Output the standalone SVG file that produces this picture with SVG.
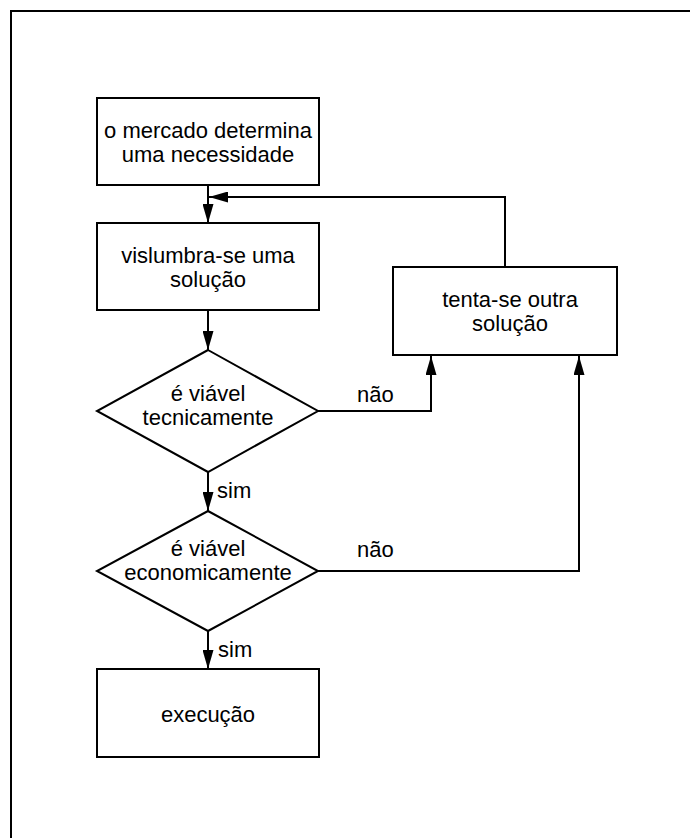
<svg xmlns="http://www.w3.org/2000/svg" width="690" height="838" viewBox="0 0 690 838">
  <style>
    .box { fill: #ffffff; stroke: #000000; stroke-width: 2; }
    .conn { fill: none; stroke: #000000; stroke-width: 2; }
    .lbl { font-family: "Liberation Sans", Arial, sans-serif; font-size: 22px; fill: #000000; }
    .mid { text-anchor: middle; }
  </style>
  <defs>
    <marker id="arrow" markerUnits="userSpaceOnUse" markerWidth="19" markerHeight="11" refX="19" refY="5.5" orient="auto">
      <path d="M0,0 L19,5.5 L0,11 Z" fill="#000000"/>
    </marker>
  </defs>

  <rect width="690" height="838" fill="#ffffff"/>
  <!-- page frame -->
  <path d="M11,838 V11 H690" fill="none" stroke="#000000" stroke-width="2"/>

  <g id="connectors">
    <path class="conn" d="M208,185 V223" marker-end="url(#arrow)"/>
    <path class="conn" d="M505,267 V197 H209" marker-end="url(#arrow)"/>
    <path class="conn" d="M208,310 V350" marker-end="url(#arrow)"/>
    <path class="conn" d="M318,411 H431 V356" marker-end="url(#arrow)"/>
    <path class="conn" d="M208,472 V511" marker-end="url(#arrow)"/>
    <path class="conn" d="M318,571 H579 V356" marker-end="url(#arrow)"/>
    <path class="conn" d="M208,631 V669" marker-end="url(#arrow)"/>
    <text class="lbl" x="357" y="402">não</text>
    <text class="lbl" x="357" y="557">não</text>
    <text class="lbl" x="217" y="498">sim</text>
    <text class="lbl" x="218" y="657">sim</text>
  </g>

  <g id="mercado">
    <rect class="box" x="97" y="98" width="222" height="87"/>
    <text class="lbl mid" x="208" y="138">o mercado determina</text>
    <text class="lbl mid" x="208" y="162">uma necessidade</text>
  </g>

  <g id="solucao">
    <rect class="box" x="97" y="223" width="222" height="87"/>
    <text class="lbl mid" x="208" y="263">vislumbra-se uma</text>
    <text class="lbl mid" x="208" y="287">solução</text>
  </g>

  <g id="outra-solucao">
    <rect class="box" x="393" y="267" width="224" height="88"/>
    <text class="lbl mid" x="510" y="307">tenta-se outra</text>
    <text class="lbl mid" x="510" y="331">solução</text>
  </g>

  <g id="viavel-tecnicamente">
    <polygon class="box" points="208,350 318,411 208,472 97,411"/>
    <text class="lbl mid" x="208" y="401">é viável</text>
    <text class="lbl mid" x="208" y="425">tecnicamente</text>
  </g>

  <g id="viavel-economicamente">
    <polygon class="box" points="208,511 318,571 208,631 97,571"/>
    <text class="lbl mid" x="208" y="556">é viável</text>
    <text class="lbl mid" x="208" y="580">economicamente</text>
  </g>

  <g id="execucao">
    <rect class="box" x="97" y="669" width="222" height="88"/>
    <text class="lbl mid" x="208" y="722">execução</text>
  </g>
</svg>
